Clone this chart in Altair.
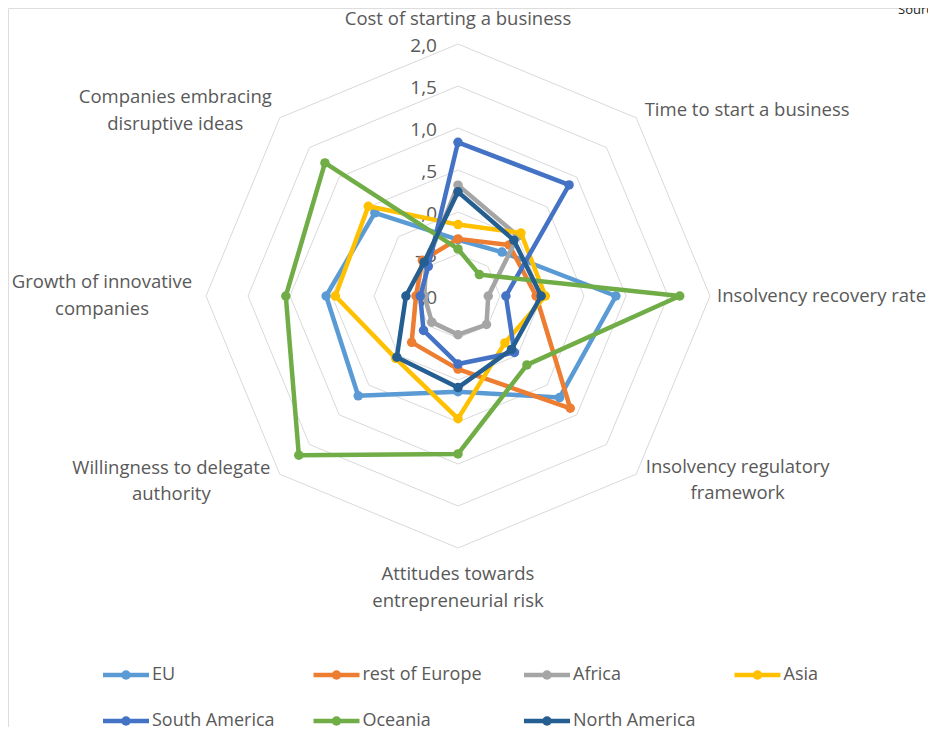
import math
import altair as alt
import pandas as pd

# ---------------- data ----------------
categories = [
    "Cost of starting a business",
    "Time to start a business",
    "Insolvency recovery rate",
    "Insolvency regulatory\nframework",
    "Attitudes towards\nentrepreneurial risk",
    "Willingness to delegate\nauthority",
    "Growth of innovative\ncompanies",
    "Companies embracing\ndisruptive ideas",
]

series_names = ["EU", "rest of Europe", "Africa", "Asia",
                "South America", "Oceania", "North America"]

eu = [-0.33, -0.26, 0.88, 0.71, 0.14, 0.68, 0.57, 0.40]
rest_of_europe = [-0.32, -0.14, -0.07, 0.89, -0.13, -0.22, -0.50, -0.40]
africa = [0.32, 0.01, -0.64, -0.52, -0.54, -0.56, -0.60, -0.46]
asia = [-0.15, 0.06, 0.04, -0.21, 0.46, 0.05, 0.46, 0.51]
south_america = [0.83, 0.87, -0.43, -0.05, -0.19, -0.42, -0.55, -0.50]
oceania = [-0.44, -0.64, 1.64, 0.16, 0.88, 1.68, 1.05, 1.24]
north_america = [0.24, -0.06, -0.01, -0.10, 0.09, 0.03, -0.38, -0.43]

series_values = [eu, rest_of_europe, africa, asia,
                 south_america, oceania, north_america]

colors = ["#5B9BD5", "#ED7D31", "#A5A5A5", "#FFC000",
          "#4472C4", "#70AD47", "#255E91"]

levels = [-1.0, -0.5, 0.0, 0.5, 1.0, 1.5, 2.0]
level_labels = ["-1,0", "-,5", ",0", ",5", "1,0", "1,5", "2,0"]

# ---------------- layout ----------------
W, H = 920, 719
CX, CY = 450, 288          # centre in plot-area pixels
PXU = 84                   # pixels per value unit
RMIN = levels[0]
XMIN, XMAX = -CX / PXU, (W - CX) / PXU
YMIN, YMAX = -(H - CY) / PXU, CY / PXU
LABEL_R = 264 / PXU
N = len(categories)

def ux(px):  # page px -> units
    return (px - 8 - CX) / PXU

def uy(py):
    return (CY - (py - 8)) / PXU

xs = alt.Scale(domain=[XMIN, XMAX], nice=False, zero=False)
ys = alt.Scale(domain=[YMIN, YMAX], nice=False, zero=False)
cscale = alt.Scale(domain=series_names, range=colors)

FONT = "Open Sans"
GREY = "#595959"
LABEL_SIZE = 18.5

# long frame for series
rows = []
for s, vals in zip(series_names, series_values):
    for i in range(N + 1):
        rows.append({"series": s, "i": i, "k": i % N, "value": vals[i % N]})
df = pd.DataFrame(rows)

grid_rows = []
for lv in levels[1:]:
    for i in range(N + 1):
        grid_rows.append({"level": lv, "i": i, "k": i % N})
grid_df = pd.DataFrame(grid_rows)

tick_df = pd.DataFrame({"level": levels, "label": level_labels})
cat_df = pd.DataFrame({"k": list(range(N)), "name": categories})
leg_df = pd.DataFrame({"series": series_names,
                       "n": list(range(len(series_names)))})

def polar(ch):
    return ch.transform_calculate(
        ang=f"datum.k * PI / {N / 2}",
    ).transform_calculate(
        rr=f"datum.value - ({RMIN})"
    ).transform_calculate(
        x="datum.rr * sin(datum.ang)",
        y="datum.rr * cos(datum.ang)",
    )

layers = []

# grid rings
grid = alt.Chart(grid_df).mark_line(color="#D9D9D9", strokeWidth=1).transform_calculate(
    ang=f"datum.k * PI / {N / 2}",
    rr=f"datum.level - ({RMIN})",
).transform_calculate(
    x="datum.rr * sin(datum.ang)",
    y="datum.rr * cos(datum.ang)",
).encode(
    x=alt.X("x:Q", scale=xs, axis=None),
    y=alt.Y("y:Q", scale=ys, axis=None),
    detail="level:N",
    order="i:Q",
)
layers.append(grid)

# value tick labels along the top axis
ticks = alt.Chart(tick_df).mark_text(
    align="right", baseline="middle", dx=-21, dy=2, font=FONT, fontSize=19, color=GREY
).transform_calculate(
    x="0", y=f"datum.level - ({RMIN})"
).encode(
    x=alt.X("x:Q", scale=xs, axis=None),
    y=alt.Y("y:Q", scale=ys, axis=None),
    text="label:N",
)
layers.append(ticks)

# category labels (align, dx, dy of first line)
label_style = [
    ("center", 0, -13),
    ("left", 0, 1),
    ("left", -5, 0),
    ("center", 93, -16),
    ("center", 0, 14),
    ("center", -100, -15),
    ("center", -92, -14),
    ("center", -96, -12),
]
for k, (al, dx, dy) in enumerate(label_style):
    t = alt.Chart(cat_df).transform_filter(f"datum.k == {k}").transform_calculate(
        ang=f"datum.k * PI / {N / 2}"
    ).transform_calculate(
        x=f"{LABEL_R} * sin(datum.ang)",
        y=f"{LABEL_R} * cos(datum.ang)",
    ).mark_text(
        align=al, baseline="middle", dx=dx, dy=dy, font=FONT, fontSize=LABEL_SIZE,
        color=GREY, lineBreak="\n", lineHeight=26.5
    ).encode(
        x=alt.X("x:Q", scale=xs, axis=None),
        y=alt.Y("y:Q", scale=ys, axis=None),
        text="name:N",
    )
    layers.append(t)

# series: line + markers, drawn in series order
for s in series_names:
    base = polar(alt.Chart(df).transform_filter(alt.datum.series == s))
    enc = dict(
        x=alt.X("x:Q", scale=xs, axis=None),
        y=alt.Y("y:Q", scale=ys, axis=None),
        color=alt.Color("series:N", scale=cscale, legend=None),
    )
    ln = base.mark_line(strokeWidth=4.5, strokeJoin="round").encode(order="i:Q", **enc)
    pt = base.transform_filter("datum.i < %d" % N).mark_point(
        filled=True, size=90, opacity=1, shape="circle"
    ).encode(**enc)
    layers += [ln, pt]

# legend (4 columns, 2 rows)
L_X0, L_DX, L_W = 103, 210.5, 46
L_Y0, L_DY = 675, 46
leg_base = alt.Chart(leg_df).transform_calculate(
    col="datum.n % 4", row="floor(datum.n / 4)"
).transform_calculate(
    lx1=f"({ux(L_X0)}) + datum.col * {L_DX / PXU}",
    ly=f"({uy(L_Y0)}) - datum.row * {L_DY / PXU}",
).transform_calculate(
    lx2=f"datum.lx1 + {L_W / PXU}",
    lxm=f"datum.lx1 + {L_W / 2 / PXU}",
    ltx=f"datum.lx1 + {(L_W + 3) / PXU}",
)
leg_line = leg_base.mark_rule(strokeWidth=4.5).encode(
    x=alt.X("lx1:Q", scale=xs, axis=None), x2="lx2:Q",
    y=alt.Y("ly:Q", scale=ys, axis=None),
    color=alt.Color("series:N", scale=cscale, legend=None),
)
leg_pt = leg_base.mark_point(filled=True, size=90, opacity=1, shape="circle").encode(
    x=alt.X("lxm:Q", scale=xs, axis=None),
    y=alt.Y("ly:Q", scale=ys, axis=None),
    color=alt.Color("series:N", scale=cscale, legend=None),
)
leg_txt = leg_base.mark_text(
    align="left", baseline="middle", font=FONT, fontSize=18, color=GREY
).encode(
    x=alt.X("ltx:Q", scale=xs, axis=None),
    y=alt.Y("ly:Q", scale=ys, axis=None),
    text="series:N",
)
layers += [leg_line, leg_pt, leg_txt]

src = alt.Chart(pd.DataFrame({"t": ["Source"]})).mark_text(
    align="left", baseline="middle", font=FONT, fontSize=13, color="#222222"
).encode(x=alt.value(890), y=alt.value(2), text="t:N")
layers.append(src)

chart = alt.layer(*layers).properties(
    width=W, height=H, padding=0,
    autosize=alt.AutoSizeParams(type="none"),
).configure_view(stroke=None).configure(background="white")

chart.save("out.html", embed_options={"renderer": "svg", "actions": False})
